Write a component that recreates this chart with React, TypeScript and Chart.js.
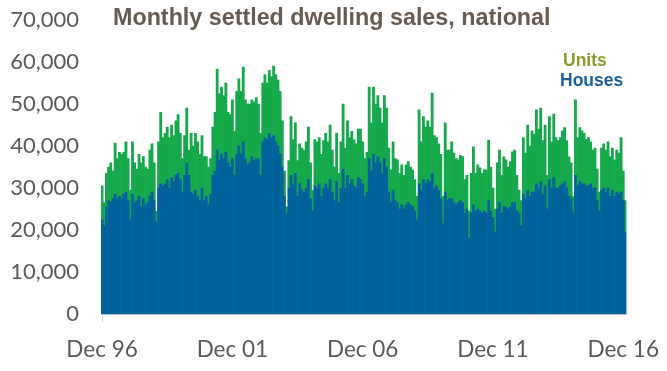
import React, { useEffect, useRef } from "react";
import { Chart, registerables } from "chart.js";

Chart.register(...registerables);

const MONTHS = ["Jan", "Feb", "Mar", "Apr", "May", "Jun", "Jul", "Aug", "Sep", "Oct", "Nov", "Dec"];
const FIRST_YEAR = 1996;
const FIRST_MONTH = 11; // December
const TICK_LABELS = ["Dec 96", "Dec 01", "Dec 06", "Dec 11", "Dec 16"];
const Y_TICKS = [0, 10000, 20000, 30000, 40000, 50000, 60000, 70000];
const TITLE = "Monthly settled dwelling sales, national";
const LEGEND = ["Units", "Houses"];

// Houses, Dec 96 .. Jan 17 (12 per row)
const houses = [
  22500, 21000, 25500, 27000, 26500, 27500, 28500, 27500, 28000, 27500, 28500, 29000,
  27000, 22500, 28500, 26500, 27000, 28000, 25500, 27500, 26000, 26500, 28000, 29000,
  27000, 22000, 30000, 31000, 30500, 31000, 32000, 30000, 32500, 31500, 33000, 33500,
  32000, 29000, 33000, 36000, 33000, 29000, 28500, 29500, 28000, 27000, 30000, 27000,
  28000, 26000, 28500, 33000, 34000, 39000, 36500, 38000, 37000, 38500, 36000, 35000,
  37000, 33000, 38000, 40000, 38000, 41000, 37000, 35500, 36000, 37500, 36500, 37000,
  37000, 33000, 41000, 42000, 41500, 43000, 42000, 42500, 41000, 40000, 38000, 35000,
  28000, 24000, 30000, 33000, 31000, 33500, 28000, 31000, 29500, 29000, 30000, 32000,
  27500, 24500, 30500, 30000, 31000, 28000, 30000, 31000, 30000, 32000, 29000, 27000,
  31500, 26500, 30000, 34500, 30000, 33000, 31000, 32000, 30500, 30000, 32500, 32000,
  31000, 28000, 29000, 37000, 34000, 38000, 36000, 37500, 36000, 33500, 37000, 35000,
  29000, 26500, 29500, 27000, 26500, 25000, 26000, 25000, 26000, 26500, 26000, 25500,
  24500, 22500, 31000, 29500, 32000, 31000, 32000, 31500, 33500, 30000, 30500, 29500,
  27500, 21500, 29000, 27000, 27500, 27500, 26500, 26000, 26500, 27000, 26500, 24000,
  25000, 18000, 24000, 26000, 24500, 25000, 24500, 24000, 24500, 24000, 27000, 24500,
  23000, 19500, 25000, 26500, 24000, 25500, 25500, 25000, 25500, 26500, 26500, 24500,
  24000, 21000, 28500, 27500, 29500, 28000, 29000, 29000, 31000, 30000, 31500, 28500,
  30500, 25000, 32000, 30000, 32500, 30000, 30000, 30500, 31000, 31500, 30000, 28000,
  27500, 24000, 33000, 30500, 31500, 31000, 31000, 30500, 30500, 31000, 30000, 30000,
  27000, 24500, 29500, 30000, 29000, 30000, 28000, 29500, 28000, 29000, 28500, 29000,
  27000, 19500,
];

// Units, Dec 96 .. Jan 17 (12 per row)
const units = [
  8000, 5500, 8000, 8000, 9500, 6500, 12200, 9500, 10500, 10500, 10000, 12000,
  10000, 7000, 12500, 9500, 7500, 10000, 10500, 10000, 9000, 8000, 11000, 11500,
  9000, 2500, 11000, 17000, 11500, 12000, 12500, 12000, 12500, 11000, 13000, 14000,
  11000, 8000, 9500, 13000, 6000, 14000, 11500, 13500, 13000, 11000, 12500, 10500,
  9500, 9000, 8500, 11500, 14000, 19300, 16000, 16000, 15000, 16500, 12000, 12500,
  14000, 10500, 15000, 16000, 15000, 17800, 14000, 14500, 14000, 13500, 14000, 14500,
  13000, 10000, 14000, 15000, 13500, 15000, 14500, 16500, 16000, 15700, 15000, 11000,
  6000, 1500, 6500, 14000, 10500, 12000, 8500, 9500, 10000, 10000, 11000, 12500,
  8500, 5000, 11000, 11000, 11000, 10000, 11300, 12000, 11000, 13000, 10000, 8000,
  11500, 7000, 11000, 15500, 9500, 13000, 11000, 11500, 11000, 10500, 11500, 12000,
  10000, 9000, 9500, 17000, 11500, 16000, 14000, 14500, 13000, 12000, 15000, 14000,
  10500, 7800, 11500, 10000, 10200, 8500, 9500, 8000, 9500, 9800, 9000, 8800,
  7500, 5500, 17600, 11500, 15000, 13500, 14000, 13000, 19100, 12500, 11500, 11000,
  10500, 6500, 16500, 12000, 11500, 13500, 11800, 11000, 10200, 10800, 11000, 8000,
  8000, 6500, 9500, 13800, 9000, 10500, 10300, 9500, 9800, 10300, 14400, 10500,
  7000, 5500, 11000, 12500, 9000, 11900, 11200, 10000, 10800, 12100, 12500, 8500,
  5500, 6000, 13500, 10800, 15500, 12000, 14600, 13800, 17600, 14000, 17500, 12800,
  14500, 8000, 15000, 11000, 15100, 12000, 11300, 11500, 12600, 12900, 11300, 9400,
  8500, 4000, 18000, 11500, 12900, 12600, 12000, 11100, 11500, 10000, 9000, 9500,
  7500, 4500, 10000, 10500, 10000, 11000, 9400, 10000, 8700, 10000, 9800, 13000,
  7000, 7500,
];

const categories: string[] = houses.map((_, i) => {
  const m = (FIRST_MONTH + i) % 12;
  const y = FIRST_YEAR + Math.floor((FIRST_MONTH + i) / 12);
  return `${MONTHS[m]} ${String(y % 100).padStart(2, "0")}`;
});

const BLUE = "#00629a";
const GREEN = "#16a94b";
const TEXT = "#595959";
const TITLE_COLOR = "#665b50";
const UNITS_COLOR = "#8a9c2e";
const HOUSES_COLOR = "#1b5e99";
const AXIS_FONT = "Lato";

export default function App() {
  const ref = useRef<HTMLCanvasElement>(null);

  useEffect(() => {
    if (!ref.current) return;
    const overlay = {
      id: "overlayText",
      afterDraw(chart: any) {
        const ctx = chart.ctx;
        ctx.save();
        ctx.textAlign = "left";
        ctx.textBaseline = "middle";
        ctx.font = 'bold 23.3px "Liberation Sans", Arial, sans-serif';
        ctx.fillStyle = TITLE_COLOR;
        ctx.fillText(TITLE, 113, 19);
        ctx.font = 'bold 17.5px "Liberation Sans", Arial, sans-serif';
        ctx.fillStyle = UNITS_COLOR;
        ctx.fillText(LEGEND[0], 563, 61);
        ctx.fillStyle = HOUSES_COLOR;
        ctx.fillText(LEGEND[1], 560, 81);
        ctx.restore();
      },
    };

    const chart = new Chart(ref.current, {
      type: "bar",
      data: {
        labels: categories,
        datasets: [
          { label: "Houses", data: houses, backgroundColor: BLUE, borderWidth: 0, barPercentage: 1, categoryPercentage: 1 },
          { label: "Units", data: units, backgroundColor: GREEN, borderWidth: 0, barPercentage: 1, categoryPercentage: 1 },
        ],
      },
      options: {
        responsive: false,
        animation: false,
        layout: { padding: { left: 0, right: 40.5, top: 20, bottom: 0 } },
        plugins: { legend: { display: false }, tooltip: { enabled: false }, title: { display: false } },
        scales: {
          x: {
            stacked: true,
            afterFit: (s: any) => { s.height = 57; s.paddingLeft = 0; s.paddingRight = 0; },
            grid: {
              offset: false,
              drawOnChartArea: false,
              drawTicks: true,
              tickLength: 8,
              color: (c: any) => (TICK_LABELS.includes(categories[c.index]) ? "#d0d0d0" : "rgba(0,0,0,0)"),
            },
            border: { display: true, color: "#a8c4dc", width: 1 },
            ticks: {
              autoSkip: false,
              maxRotation: 0,
              minRotation: 0,
              padding: 14,
              color: TEXT,
              font: { family: AXIS_FONT, size: 22.5 },
              callback: (_v: any, i: number) => (TICK_LABELS.includes(categories[i]) ? categories[i] : null),
            },
          },
          y: {
            stacked: true,
            min: Y_TICKS[0],
            max: Y_TICKS[Y_TICKS.length - 1],
            afterFit: (s: any) => { s.width = 101; },
            afterBuildTicks: (s: any) => { s.ticks = Y_TICKS.map((v) => ({ value: v })); },
            grid: { display: false },
            border: { display: false },
            ticks: {
              padding: 14,
              color: TEXT,
              font: { family: AXIS_FONT, size: 22, lineHeight: 0.5 },
              callback: (v: any) => Number(v).toLocaleString("en-US"),
            },
          },
        },
      },
      plugins: [overlay],
    } as any);
    return () => chart.destroy();
  }, []);

  return (
    <div style={{ position: "fixed", left: 0, top: 0, width: 667, height: 371, background: "#fff" }}>
      <canvas ref={ref} width={667} height={371} style={{ display: "block" }} />
    </div>
  );
}
